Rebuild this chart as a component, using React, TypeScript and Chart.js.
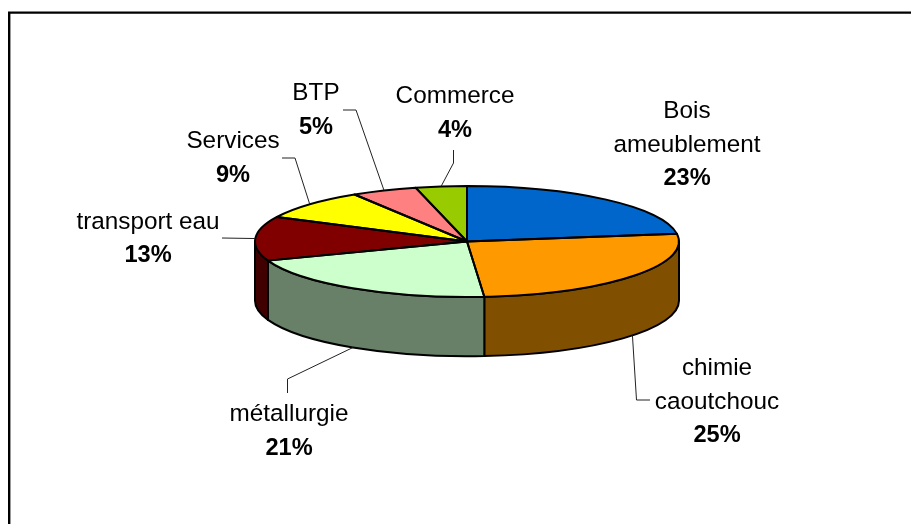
import React, { useEffect, useRef } from "react";
import { Chart, registerables } from "chart.js";

Chart.register(...registerables);

const sectors = ["Bois ameublement", "chimie caoutchouc", "métallurgie", "transport eau", "Services", "BTP", "Commerce"];
const sliceShares = [22.8, 25.9, 20.7, 12.9, 8.8, 5.0, 3.9];
const shownPercents = ["23%", "25%", "21%", "13%", "9%", "5%", "4%"];
const labelLines = [["Bois", "ameublement"], ["chimie", "caoutchouc"], ["métallurgie"], ["transport eau"], ["Services"], ["BTP"], ["Commerce"]];
const topColors = ["#0066CC", "#FF9900", "#CCFFCC", "#800000", "#FFFF00", "#FF8080", "#99CC00"];
const wallColors = ["#003366", "#804F00", "#688068", "#400000", "#808000", "#804040", "#4D6600"];

// Label placement: centre x, first baseline y, leader elbow points (from label towards the pie).
const labelLayout: { x: number; y: number; leader: [number, number][] }[] = [
  { x: 687, y: 118, leader: [] },
  { x: 717, y: 375, leader: [[650, 400], [636.5, 400]] },
  { x: 289, y: 421, leader: [[287.5, 393], [287.5, 379]] },
  { x: 148, y: 228.5, leader: [[222, 238]] },
  { x: 233, y: 148, leader: [[282, 158], [295, 158]] },
  { x: 316, y: 100, leader: [[343, 110], [356, 110]] },
  { x: 455, y: 103, leader: [[453.5, 150], [453.5, 163]] },
];

const SQUASH = 55.5 / 212;
const DEPTH = 59.3;
const TEXT_FONT = "24.3px 'Liberation Sans', Arial, sans-serif";
const BOLD_FONT = "bold 23.6px 'Liberation Sans', Arial, sans-serif";

const arcProps = (a: any) => a.getProps(["x", "y", "startAngle", "endAngle", "outerRadius"], true);

const pie3d = {
  id: "pie3d",
  beforeDraw(chart: any) {
    const { ctx, width, height } = chart;
    ctx.save();
    ctx.fillStyle = "#fff";
    ctx.fillRect(0, 0, width, height);
    ctx.strokeStyle = "#000";
    ctx.lineWidth = 2.4;
    ctx.beginPath();
    ctx.moveTo(9.2, height);
    ctx.lineTo(9.2, 12.6);
    ctx.lineTo(width, 12.6);
    ctx.stroke();
    ctx.restore();
  },
  beforeDatasetsDraw(chart: any) {
    const { ctx } = chart;
    const arcs = chart.getDatasetMeta(0).data;
    ctx.save();
    ctx.lineWidth = 2;
    ctx.lineJoin = "round";
    ctx.strokeStyle = "#000";
    arcs.forEach((arc: any, i: number) => {
      const { x, y, startAngle, endAngle, outerRadius: r } = arcProps(arc);
      const s = Math.max(startAngle, 0);
      const e = Math.min(endAngle, Math.PI);
      if (e <= s) return;
      const ry = r * SQUASH;
      ctx.beginPath();
      ctx.ellipse(x, y, r, ry, 0, s, e);
      ctx.ellipse(x, y + DEPTH, r, ry, 0, e, s, true);
      ctx.closePath();
      ctx.fillStyle = wallColors[i];
      ctx.fill();
      ctx.stroke();
    });
    ctx.restore();
  },
  beforeDatasetDraw(chart: any) {
    const { ctx } = chart;
    const first = arcProps(chart.getDatasetMeta(0).data[0]);
    ctx.save();
    ctx.translate(first.x, first.y);
    ctx.scale(1, SQUASH);
    ctx.translate(-first.x, -first.y);
  },
  afterDatasetDraw(chart: any) {
    chart.ctx.restore();
  },
  afterDatasetsDraw(chart: any) {
    const { ctx } = chart;
    const arcs = chart.getDatasetMeta(0).data;
    ctx.save();
    ctx.lineJoin = "round";
    ctx.strokeStyle = "#000";
    ctx.lineWidth = 2;
    arcs.forEach((arc: any) => {
      const { x, y, startAngle, endAngle, outerRadius: r } = arcProps(arc);
      ctx.beginPath();
      ctx.moveTo(x, y);
      ctx.ellipse(x, y, r, r * SQUASH, 0, startAngle, endAngle);
      ctx.closePath();
      ctx.stroke();
    });

    ctx.textAlign = "center";
    ctx.textBaseline = "alphabetic";
    ctx.fillStyle = "#000";
    arcs.forEach((arc: any, i: number) => {
      const { x, y, startAngle, endAngle, outerRadius: r } = arcProps(arc);
      const layout = labelLayout[i];
      if (layout.leader.length) {
        const mid = (startAngle + endAngle) / 2;
        const sy = Math.sin(mid);
        const ex = x + r * Math.cos(mid);
        const ey = y + r * SQUASH * sy + (sy > 0.1 ? DEPTH : 0);
        ctx.strokeStyle = "#222";
        ctx.lineWidth = 1;
        ctx.beginPath();
        layout.leader.forEach(([px, py], k) => (k === 0 ? ctx.moveTo(px, py) : ctx.lineTo(px, py)));
        ctx.lineTo(ex, ey);
        ctx.stroke();
      }
      ctx.font = TEXT_FONT;
      labelLines[i].forEach((line, k) => ctx.fillText(line, layout.x, layout.y + k * 33.5));
      ctx.font = BOLD_FONT;
      ctx.fillText(shownPercents[i], layout.x, layout.y + labelLines[i].length * 33.5);
    });
    ctx.restore();
  },
};

export default function App() {
  const ref = useRef<HTMLCanvasElement>(null);
  useEffect(() => {
    document.body.style.margin = "0";
    const chart = new Chart(ref.current!, {
      type: "pie",
      data: {
        labels: sectors,
        datasets: [{ data: sliceShares, backgroundColor: topColors, borderWidth: 0 }],
      },
      options: {
        animation: false,
        responsive: false,
        layout: { padding: { left: 255, right: 232, top: 29.5, bottom: 70.5 } },
        plugins: { legend: { display: false }, tooltip: { enabled: false }, title: { display: false } },
      },
      plugins: [pie3d],
    } as any);
    return () => chart.destroy();
  }, []);
  return <canvas ref={ref} width={911} height={524} style={{ display: "block" }} />;
}
